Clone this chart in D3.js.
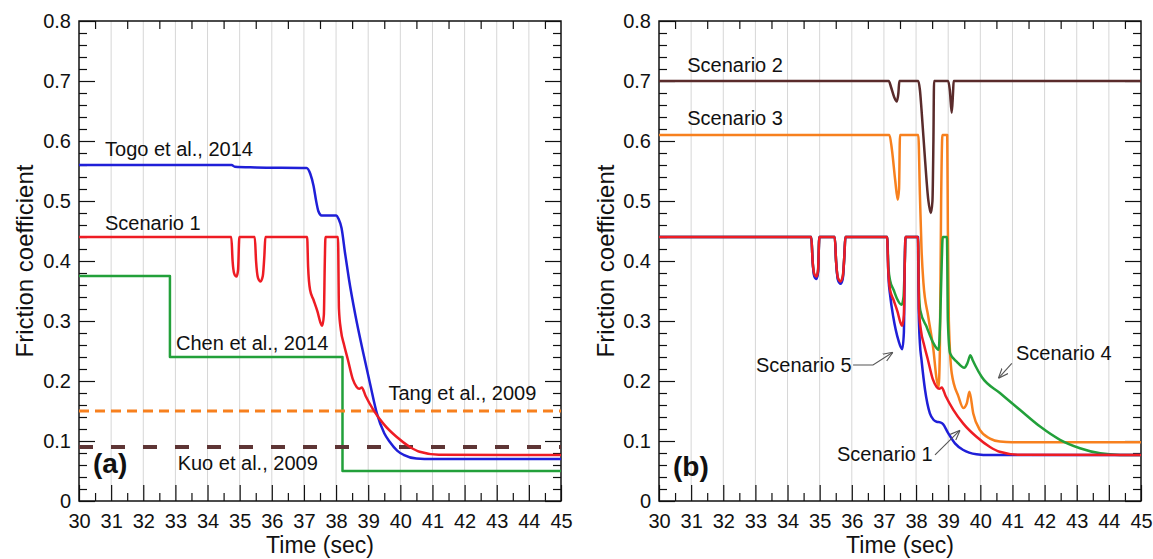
<!DOCTYPE html>
<html lang="en">

<head>
	<meta charset="utf-8">
	<title>Friction coefficient vs time</title>
	<script src="https://d3js.org/d3.v7.min.js"></script>
	<style>
		body { margin: 0; background: #fff; }
		svg text { font-family: "Liberation Sans", Arial, sans-serif; fill: #111; }
	</style>
</head>

<body>
	<div id="chart"></div>

	<script>
		// ---- data (time in sec, friction coefficient) ----
		const xTicks = [30, 31, 32, 33, 34, 35, 36, 37, 38, 39, 40, 41, 42, 43, 44, 45];
		const yTicks = [0, 0.1, 0.2, 0.3, 0.4, 0.5, 0.6, 0.7, 0.8];

		// panel (a)
		const togo = [[30, 0.56], [34.75, 0.56], [34.85, 0.557], [35.5, 0.556], [37.08, 0.555], [37.2, 0.545],
			[37.3, 0.525], [37.38, 0.5], [37.45, 0.483], [37.55, 0.476], [38.0, 0.476], [38.08, 0.47],
			[38.17, 0.455], [38.28, 0.413], [38.4, 0.37], [38.6, 0.31], [38.85, 0.246], [39.06, 0.195],
			[39.27, 0.146], [39.5, 0.113], [39.68, 0.098], [39.9, 0.084], [40.1, 0.077], [40.5, 0.071],
			[41, 0.07], [45, 0.07]];
		const scenario1 = [[30, 0.44], [34.74, 0.44], [34.78, 0.40], [34.83, 0.379], [34.9, 0.374], [34.95, 0.385],
			[34.99, 0.44], [35.47, 0.44], [35.51, 0.40], [35.57, 0.372], [35.65, 0.366], [35.72, 0.375],
			[35.77, 0.41], [35.8, 0.44], [37.1, 0.44], [37.13, 0.39], [37.19, 0.352], [37.3, 0.335],
			[37.42, 0.316], [37.51, 0.298], [37.57, 0.292], [37.62, 0.31], [37.65, 0.4], [37.67, 0.44],
			[38.06, 0.44], [38.09, 0.32], [38.15, 0.285], [38.25, 0.26], [38.37, 0.235], [38.52, 0.203],
			[38.64, 0.19], [38.72, 0.187], [38.8, 0.189], [38.92, 0.175], [39.16, 0.152], [39.47, 0.129],
			[39.88, 0.107], [40.3, 0.09], [40.6, 0.082], [41.2, 0.077], [45, 0.0765]];
		const chen = [[30, 0.375], [32.83, 0.375], [32.83, 0.24], [38.2, 0.24], [38.2, 0.05], [45, 0.05]];
		const tang = [[30, 0.15], [45, 0.15]];
		const kuo = [[30, 0.09], [45, 0.09]];

		// panel (b)
		const scenario2 = [[30, 0.7], [37.15, 0.7], [37.22, 0.69], [37.32, 0.673], [37.4, 0.666], [37.45, 0.68],
			[37.48, 0.7], [38.07, 0.7], [38.12, 0.685], [38.17, 0.652], [38.28, 0.568], [38.38, 0.502],
			[38.46, 0.48], [38.51, 0.5], [38.54, 0.6], [38.56, 0.7], [39.0, 0.7], [39.05, 0.685],
			[39.11, 0.647], [39.15, 0.68], [39.17, 0.7], [45, 0.7]];
		const scenario3 = [[30, 0.61], [37.17, 0.61], [37.25, 0.585], [37.35, 0.535], [37.43, 0.502], [37.47, 0.52],
			[37.5, 0.61], [38.07, 0.61], [38.12, 0.51], [38.17, 0.42], [38.23, 0.363], [38.38, 0.307],
			[38.54, 0.252], [38.64, 0.203], [38.7, 0.19], [38.74, 0.25], [38.78, 0.5], [38.82, 0.61],
			[38.97, 0.61], [38.99, 0.45], [39.02, 0.3], [39.11, 0.213], [39.32, 0.174], [39.47, 0.155],
			[39.58, 0.163], [39.66, 0.182], [39.78, 0.146], [39.99, 0.118], [40.3, 0.104], [40.61, 0.099],
			[41, 0.098], [45, 0.098]];
		const scenario4 = [[30, 0.44], [34.74, 0.44], [34.78, 0.40], [34.83, 0.377], [34.9, 0.372], [34.95, 0.383],
			[34.99, 0.44], [35.47, 0.44], [35.51, 0.40], [35.57, 0.37], [35.65, 0.364], [35.72, 0.373],
			[35.77, 0.41], [35.8, 0.44], [37.1, 0.44], [37.14, 0.39], [37.19, 0.368], [37.3, 0.352],
			[37.4, 0.338], [37.55, 0.327], [37.61, 0.34], [37.65, 0.4], [37.67, 0.44], [38.06, 0.44],
			[38.09, 0.35], [38.13, 0.318], [38.33, 0.29], [38.54, 0.263], [38.7, 0.252], [38.75, 0.3],
			[38.8, 0.4], [38.83, 0.44], [38.96, 0.44], [38.99, 0.3], [39.06, 0.246], [39.27, 0.232],
			[39.5, 0.222], [39.6, 0.23], [39.69, 0.243], [39.76, 0.235], [39.85, 0.225], [40.04, 0.207],
			[40.61, 0.18], [41.23, 0.152], [41.86, 0.124], [42.48, 0.102], [43.1, 0.088], [43.73, 0.0795],
			[44.35, 0.0768], [45, 0.0765]];
		const scenario5 = [[30, 0.44], [34.74, 0.44], [34.78, 0.40], [34.83, 0.375], [34.9, 0.37], [34.95, 0.381],
			[34.99, 0.44], [35.47, 0.44], [35.51, 0.40], [35.57, 0.368], [35.65, 0.362], [35.72, 0.371],
			[35.77, 0.41], [35.8, 0.44], [37.1, 0.44], [37.14, 0.374], [37.2, 0.34], [37.29, 0.307],
			[37.45, 0.268], [37.57, 0.253], [37.62, 0.28], [37.65, 0.4], [37.67, 0.44], [38.06, 0.44],
			[38.08, 0.32], [38.12, 0.262], [38.17, 0.235], [38.28, 0.185], [38.43, 0.146], [38.55, 0.135],
			[38.64, 0.132], [38.75, 0.131], [38.84, 0.128], [39.0, 0.113], [39.21, 0.096], [39.47, 0.085],
			[39.88, 0.078], [40.3, 0.0765], [45, 0.0765]];

		// annotation text and where it sits (data units)
		const labelsA = [
			{ text: "Togo et al., 2014", t: 30.81, mu: 0.575 },
			{ text: "Scenario 1", t: 30.81, mu: 0.452 },
			{ text: "Chen et al., 2014", t: 33.02, mu: 0.252 },
			{ text: "Tang et al., 2009", t: 39.63, mu: 0.168 },
			{ text: "Kuo et al., 2009", t: 33.07, mu: 0.052 }
		];
		const labelsB = [
			{ text: "Scenario 2", t: 30.88, mu: 0.7145 },
			{ text: "Scenario 3", t: 30.88, mu: 0.627 },
			{ text: "Scenario 5", t: 33.02, mu: 0.2155 },
			{ text: "Scenario 1", t: 35.54, mu: 0.0667 },
			{ text: "Scenario 4", t: 41.11, mu: 0.235 }
		];
		const arrowsB = [
			[[36.04, 0.2267], [36.66, 0.2267], [37.28, 0.248]],
			[[38.59, 0.0767], [39.37, 0.118]],
			[[40.98, 0.2295], [40.56, 0.2045]]
		];

		// ---- layout ----
		const width = 1153, height = 559;
		const plotW = 482, plotH = 480, plotTop = 21;

		const svg = d3.select("#chart")
			.append("svg")
			.attr("width", width)
			.attr("height", height);

		svg.append("defs").append("marker")
			.attr("id", "arrow")
			.attr("viewBox", "0 0 10 10")
			.attr("refX", 10).attr("refY", 5)
			.attr("markerWidth", 10).attr("markerHeight", 10)
			.attr("markerUnits", "userSpaceOnUse")
			.attr("orient", "auto")
			.append("path")
			.attr("d", "M0,1 L10,5 L0,9")
			.attr("fill", "none")
			.attr("stroke", "#555")
			.attr("stroke-width", 1.1);

		const x = d3.scaleLinear().domain([30, 45]).range([0, plotW]);
		const y = d3.scaleLinear().domain([0, 0.8]).range([plotH, 0]);

		const smooth = d3.line().x(d => x(d[0])).y(d => y(d[1])).curve(d3.curveMonotoneX);
		const straight = d3.line().x(d => x(d[0])).y(d => y(d[1]));

		const xMinor = xTicks.slice(0, -1).map(d => d + 0.5);
		const yMinor = d3.range(0, 41).map(i => i * 0.02).filter((d, i) => i % 5 != 0);

		function styleAxis(g) {
			g.select(".domain").remove();
			g.selectAll(".tick line").attr("stroke", "#111").attr("stroke-width", 1.2);
			g.selectAll("text").style("font-size", "20px");
		}

		function drawFrame(g, tag, titleX) {
			// vertical grid lines
			g.selectAll(".grid")
				.data(xTicks.slice(1, -1))
				.join("line")
				.attr("x1", d => x(d)).attr("x2", d => x(d))
				.attr("y1", 0).attr("y2", plotH)
				.attr("stroke", "#d6d6d6")
				.attr("stroke-width", 1);

			// bottom axis
			g.append("g").attr("transform", `translate(0,${plotH})`)
				.call(d3.axisBottom(x).tickValues(xTicks).tickSize(-16).tickPadding(13).tickFormat(d3.format("d")))
				.call(styleAxis);
			g.append("g").attr("transform", `translate(0,${plotH})`)
				.call(d3.axisBottom(x).tickValues(xMinor).tickSize(-8).tickFormat(""))
				.call(styleAxis);
			// top axis (minor only)
			g.append("g")
				.call(d3.axisTop(x).tickValues(xMinor).tickSize(-8).tickFormat(""))
				.call(styleAxis);
			// left axis
			g.append("g")
				.call(d3.axisLeft(y).tickValues(yTicks).tickSize(-16).tickPadding(8)
					.tickFormat(d => d == 0 ? "0" : d3.format(".1f")(d)))
				.call(styleAxis);
			g.append("g")
				.call(d3.axisLeft(y).tickValues(yMinor).tickSize(-8).tickFormat(""))
				.call(styleAxis);
			// right axis
			g.append("g").attr("transform", `translate(${plotW},0)`)
				.call(d3.axisRight(y).tickValues(yTicks).tickSize(-16).tickFormat(""))
				.call(styleAxis);
			g.append("g").attr("transform", `translate(${plotW},0)`)
				.call(d3.axisRight(y).tickValues(yMinor).tickSize(-8).tickFormat(""))
				.call(styleAxis);

			// box
			g.append("rect")
				.attr("width", plotW).attr("height", plotH)
				.attr("fill", "none")
				.attr("stroke", "#111")
				.attr("stroke-width", 1.5);

			// axis titles
			g.append("text")
				.attr("x", plotW / 2).attr("y", 532)
				.attr("text-anchor", "middle")
				.style("font-size", "23px")
				.text("Time (sec)");
			g.append("text")
				.attr("transform", `translate(${titleX},${plotH / 2}) rotate(-90)`)
				.attr("text-anchor", "middle")
				.style("font-size", "24px")
				.text("Friction coefficient");

			// panel tag
			g.append("text")
				.attr("x", 14).attr("y", tag.y)
				.style("font-size", "28px")
				.style("font-weight", "bold")
				.text(tag.text);
		}

		function drawLine(g, data, color, opts) {
			opts = opts || {};
			g.append("path")
				.attr("d", (opts.curve === false ? straight : smooth)(data))
				.attr("fill", "none")
				.attr("stroke", color)
				.attr("stroke-width", opts.w || 2.5)
				.attr("stroke-dasharray", opts.dash || null)
				.attr("stroke-linejoin", "round");
		}

		function drawLabels(g, labels) {
			g.selectAll(".lbl")
				.data(labels)
				.join("text")
				.attr("x", d => x(d.t))
				.attr("y", d => y(d.mu))
				.style("font-size", "20px")
				.text(d => d.text);
		}

		// ---- panel (a) ----
		const ga = svg.append("g").attr("transform", `translate(79,${plotTop})`);
		drawFrame(ga, { text: "(a)", y: 452 }, -46);
		drawLine(ga, chen, "#22a03a", { curve: false });
		drawLine(ga, tang, "#f7801e", { curve: false, dash: "10,6", w: 3 });
		drawLine(ga, kuo, "#5e3535", { curve: false, dash: "14,18", w: 4 });
		drawLine(ga, togo, "#1f1fd8");
		drawLine(ga, scenario1, "#ee1c24");
		drawLabels(ga, labelsA);

		// ---- panel (b) ----
		const gb = svg.append("g").attr("transform", `translate(659,${plotTop})`);
		drawFrame(gb, { text: "(b)", y: 455 }, -45);
		drawLine(gb, scenario2, "#5a2b2b");
		drawLine(gb, scenario3, "#f7801e");
		drawLine(gb, scenario4, "#22a03a");
		drawLine(gb, scenario5, "#1f1fd8");
		drawLine(gb, scenario1, "#ee1c24");
		drawLabels(gb, labelsB);

		gb.selectAll(".arrow")
			.data(arrowsB)
			.join("path")
			.attr("d", straight)
			.attr("fill", "none")
			.attr("stroke", "#555")
			.attr("stroke-width", 1.1)
			.attr("marker-end", "url(#arrow)");
	</script>

</body>

</html>
